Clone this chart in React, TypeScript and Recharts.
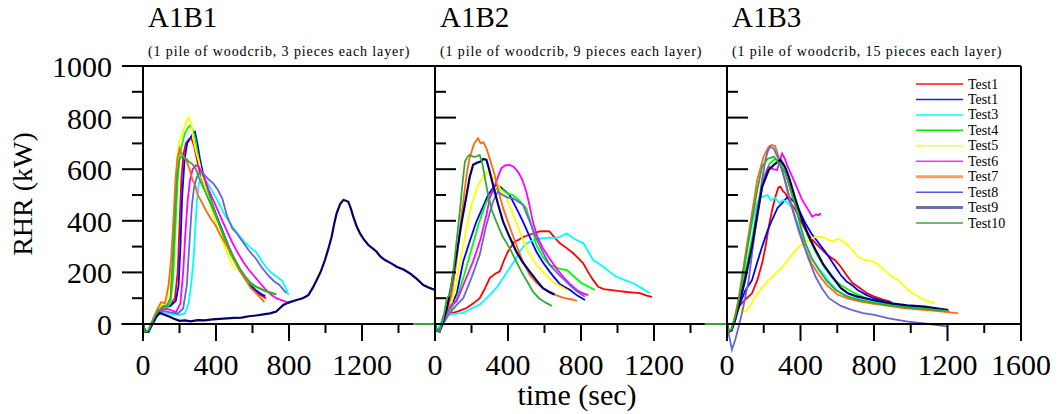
import React from "react";
import { LineChart, Line, XAxis, YAxis, ReferenceLine, Legend } from "recharts";

type Pt = [number, number];

const FONT = "'Liberation Serif', 'Times New Roman', Times, serif";

// ---- A1B1 (3 pieces each layer) : [time sec, RHR kW]
const a1b1Test1: Pt[] = [[-120,0],[0,0],[12,-30],[30,-25],[55,15],[80,55],[100,68],[125,70],[150,75],[175,100],[190,200],[200,380],[210,560],[222,660],[235,700],[250,715],[265,720],[280,690],[295,640],[310,590],[330,545],[355,500],[380,455],[405,410],[430,365],[455,320],[480,280],[510,240],[540,200],[570,165],[600,135],[630,118],[655,108],[675,100]];
const a1b1Test2: Pt[] = [[-120,0],[0,0],[12,-30],[30,-28],[55,10],[80,50],[105,62],[130,66],[150,70],[180,90],[195,150],[205,300],[215,500],[228,640],[242,700],[258,720],[272,735],[285,745],[298,700],[312,640],[330,580],[350,530],[375,475],[400,425],[425,380],[450,335],[475,290],[500,250],[530,210],[560,175],[590,150],[620,130],[650,115],[670,108]];
const a1b1Test3: Pt[] = [[-120,0],[0,0],[12,-30],[30,-30],[55,0],[80,35],[105,45],[130,42],[160,38],[200,35],[230,42],[250,80],[262,140],[276,243],[285,350],[295,475],[305,540],[318,570],[332,565],[350,550],[375,520],[400,490],[425,455],[450,420],[488,380],[520,350],[560,315],[590,295],[617,281],[650,245],[680,215],[710,195],[740,180],[765,165],[785,135],[797,112]];
const a1b1Test4: Pt[] = [[-120,0],[0,0],[12,-30],[30,-28],[55,10],[80,45],[105,60],[130,65],[150,80],[165,180],[178,380],[190,560],[202,660],[215,700],[230,740],[245,760],[258,770],[270,755],[285,720],[300,660],[315,600],[330,560],[350,520],[375,470],[400,420],[425,370],[450,320],[480,270],[510,230],[540,195],[570,170],[600,150],[630,140],[660,130],[690,125],[710,120],[730,115]];
const a1b1Test5: Pt[] = [[-120,0],[0,0],[12,-30],[30,-25],[55,15],[80,55],[105,75],[125,80],[145,150],[160,280],[172,450],[185,620],[198,710],[212,730],[225,760],[240,790],[250,800],[262,780],[275,720],[290,670],[310,620],[325,565],[341,526],[365,470],[390,410],[420,350],[451,294],[470,260],[488,230],[505,212]];
const a1b1Test6: Pt[] = [[-120,0],[0,0],[12,-30],[30,-28],[55,5],[80,40],[105,55],[130,58],[150,55],[180,45],[205,80],[220,200],[232,350],[245,480],[258,560],[272,600],[288,615],[305,610],[320,590],[340,560],[360,520],[385,480],[410,440],[435,400],[460,360],[490,315],[520,275],[550,240],[580,210],[610,185],[640,160],[670,135],[700,115],[730,100],[769,90],[805,80]];
const a1b1Test7: Pt[] = [[-120,0],[0,0],[12,-30],[30,-25],[55,20],[80,60],[100,85],[120,80],[140,150],[155,260],[168,420],[178,560],[188,640],[200,680],[212,660],[225,645],[240,630],[255,600],[270,560],[285,540],[300,500],[320,475],[345,440],[370,410],[395,385],[420,350],[445,320],[470,290],[500,250],[530,205],[560,175],[590,140],[620,120],[645,100],[665,85]];
const a1b1Test8: Pt[] = [[-120,0],[0,0],[12,-30],[30,-30],[55,5],[80,40],[105,50],[130,48],[150,45],[190,40],[220,60],[240,150],[255,320],[268,460],[280,530],[295,570],[310,585],[325,590],[340,575],[360,560],[385,545],[410,520],[435,485],[460,420],[488,372],[515,350],[545,320],[580,285],[617,255],[650,220],[690,185],[720,165],[746,152],[770,132],[785,120]];
const a1b1Test9: Pt[] = [[-120,0],[0,0],[12,-30],[30,-30],[50,0],[75,30],[92,43],[110,38],[140,30],[170,20],[200,12],[230,14],[260,10],[300,15],[340,14],[380,18],[420,20],[460,22],[500,24],[540,25],[580,30],[620,33],[660,37],[696,41],[730,48],[769,74],[800,84],[842,93],[875,100],[906,112],[930,140],[952,171],[975,205],[997,248],[1015,290],[1034,339],[1048,390],[1061,429],[1080,465],[1098,481],[1112,478],[1125,474],[1140,445],[1152,416],[1170,380],[1189,351],[1210,328],[1235,306],[1260,292],[1280,280],[1300,262],[1326,248],[1360,235],[1390,222],[1430,210],[1463,196],[1500,175],[1536,151],[1570,140],[1600,132]];
const a1b1Test10: Pt[] = [[-120,0],[0,0],[12,-30],[30,-25],[55,15],[80,50],[105,65],[130,70],[150,100],[163,240],[175,420],[188,580],[200,640],[215,650],[230,645],[250,630],[270,620],[290,600],[310,560],[330,530],[355,490],[380,450],[410,400],[440,350],[470,300],[500,255],[530,215],[560,185],[590,160],[620,145],[650,135],[680,125],[710,120],[730,115]];

// ---- A1B2 (9 pieces each layer)
const a1b2Test1: Pt[] = [[-120,0],[0,0],[10,-25],[25,-20],[45,30],[64,49],[85,45],[100,43],[130,50],[173,62],[210,80],[245,100],[275,140],[300,178],[330,195],[355,204],[380,250],[400,281],[418,300],[436,320],[455,325],[473,333],[495,340],[518,346],[545,352],[573,359],[600,360],[627,359],[650,340],[685,313],[720,295],[756,275],[785,255],[811,236],[840,200],[866,171],[894,144],[925,135],[959,132],[1000,128],[1052,124],[1090,122],[1123,120],[1160,110],[1189,105]];
const a1b2Test2: Pt[] = [[-120,0],[0,0],[10,-25],[25,-25],[45,5],[65,30],[90,70],[120,120],[155,243],[190,320],[227,397],[260,450],[291,500],[315,525],[336,539],[360,530],[385,515],[409,500],[445,450],[482,397],[518,340],[555,281],[590,240],[627,204],[660,175],[685,154],[740,132],[780,110],[822,93]];
const a1b2Test3: Pt[] = [[-120,0],[0,0],[10,-25],[30,0],[50,30],[82,36],[120,40],[155,43],[200,60],[245,75],[290,105],[336,139],[370,175],[409,217],[440,250],[464,281],[490,305],[518,320],[555,328],[591,333],[630,335],[664,333],[690,340],[722,351],[758,332],[790,320],[813,313],[840,280],[867,248],[895,235],[922,222],[960,200],[995,183],[1040,170],[1087,158],[1130,140],[1178,119]];
const a1b2Test4: Pt[] = [[-120,0],[0,0],[10,-25],[25,-25],[45,5],[65,30],[90,60],[120,100],[160,190],[200,290],[240,390],[280,470],[318,514],[340,525],[370,520],[400,505],[427,500],[460,480],[500,449],[530,380],[555,307],[590,260],[627,230],[680,215],[723,209],[760,185],[800,160],[840,145],[877,132]];
const a1b2Test5: Pt[] = [[-120,0],[0,0],[10,-25],[25,-25],[45,10],[65,40],[90,80],[118,160],[145,268],[172,370],[200,462],[222,510],[245,552],[268,575],[291,590],[312,570],[336,552],[360,520],[391,488],[425,430],[464,359],[510,280],[555,230],[600,195],[645,165],[690,145],[725,130]];
const a1b2Test6: Pt[] = [[-120,0],[0,0],[10,-25],[25,-25],[45,5],[65,40],[90,75],[118,88],[160,160],[209,243],[250,330],[282,423],[300,488],[318,520],[336,552],[350,580],[364,604],[385,615],[409,617],[430,610],[455,590],[478,560],[500,514],[518,460],[536,397],[560,340],[591,294],[627,255],[664,217],[700,185],[740,155],[780,130],[815,118],[840,112]];
const a1b2Test7: Pt[] = [[-120,0],[0,0],[10,-25],[25,-28],[45,10],[65,50],[90,110],[118,243],[145,420],[173,578],[188,640],[200,668],[215,700],[236,720],[250,700],[265,705],[282,681],[300,640],[327,578],[350,510],[373,449],[410,375],[445,307],[480,245],[518,191],[555,160],[591,139],[630,120],[670,110],[710,100],[750,95],[778,90]];
const a1b2Test8: Pt[] = [[-120,0],[0,0],[10,-25],[25,-25],[45,0],[65,25],[90,50],[120,75],[155,100],[200,180],[245,268],[280,380],[318,475],[345,514],[370,500],[400,490],[427,488],[455,475],[482,462],[518,400],[555,333],[590,280],[627,230],[680,190],[736,152],[780,125],[822,106]];
const a1b2Test9: Pt[] = [[-120,0],[0,0],[10,-25],[25,-30],[45,10],[65,60],[90,150],[118,268],[145,390],[173,500],[190,570],[209,617],[230,625],[250,630],[265,640],[282,636],[300,590],[318,539],[345,465],[373,397],[410,335],[445,281],[480,240],[518,204],[555,170],[591,139],[625,125],[655,114]];
const a1b2Test10: Pt[] = [[-120,0],[0,0],[10,-25],[25,-30],[45,20],[65,100],[82,114],[100,200],[118,320],[136,436],[150,540],[164,630],[180,650],[191,655],[210,648],[230,650],[245,655],[260,620],[275,560],[291,500],[312,440],[336,397],[370,340],[409,294],[440,250],[473,204],[505,165],[536,126],[570,100],[600,85],[627,75],[640,70]];

// ---- A1B3 (15 pieces each layer)
const a1b3Test1: Pt[] = [[-120,0],[0,0],[9,-30],[25,-20],[45,20],[64,67],[100,95],[136,119],[165,170],[191,235],[210,300],[227,377],[245,440],[264,494],[280,530],[291,532],[305,515],[318,506],[345,470],[373,442],[400,400],[427,364],[460,330],[500,300],[545,268],[591,245],[619,222],[650,190],[682,160],[711,145],[760,120],[802,106],[850,95],[893,86]];
const a1b3Test2: Pt[] = [[-120,0],[0,0],[9,-30],[25,-20],[45,15],[64,67],[100,130],[136,170],[165,240],[191,300],[220,360],[245,403],[275,450],[300,468],[320,485],[336,494],[355,480],[373,468],[400,430],[427,390],[460,350],[500,313],[545,270],[591,220],[619,190],[650,165],[682,150],[711,132],[760,112],[802,99],[850,90],[900,82]];
const a1b3Test3: Pt[] = [[-120,0],[0,0],[9,-30],[25,-15],[45,30],[64,80],[90,200],[118,320],[140,400],[160,460],[180,490],[200,495],[220,500],[240,480],[260,490],[285,470],[305,480],[330,470],[356,450],[380,400],[409,340],[440,290],[470,245],[500,215],[530,190],[560,160],[600,130],[650,108],[720,95],[800,85],[880,75],[960,68],[1040,62],[1120,58],[1200,55]];
const a1b3Test4: Pt[] = [[-120,0],[0,0],[9,-30],[25,-25],[45,20],[64,70],[100,200],[136,330],[170,470],[200,570],[230,620],[260,640],[285,630],[310,600],[340,545],[370,480],[409,400],[445,335],[482,280],[525,225],[573,180],[619,151],[680,125],[750,102],[820,86],[900,75],[980,68],[1060,62],[1140,57],[1200,55]];
const a1b3Test5: Pt[] = [[-120,0],[0,0],[9,-30],[27,-10],[45,20],[64,54],[82,60],[100,48],[125,70],[155,106],[190,140],[227,170],[270,200],[318,235],[355,270],[391,300],[420,315],[445,326],[470,335],[500,339],[530,335],[555,325],[573,319],[600,330],[619,326],[645,313],[680,290],[711,261],[740,250],[773,245],[802,241],[830,225],[857,209],[895,185],[930,171],[960,150],[985,132],[1020,115],[1058,99],[1095,88],[1131,80]];
const a1b3Test6: Pt[] = [[-120,0],[0,0],[9,-30],[25,-20],[45,25],[64,70],[100,170],[136,300],[165,440],[191,532],[210,580],[227,610],[250,600],[273,597],[290,640],[300,661],[315,640],[336,600],[355,571],[380,530],[409,481],[436,450],[464,416],[485,425],[500,422],[510,430]];
const a1b3Test7: Pt[] = [[-120,0],[0,0],[9,-30],[25,-20],[45,35],[64,100],[100,270],[136,430],[165,560],[200,650],[227,687],[245,694],[262,690],[275,661],[300,600],[330,520],[360,440],[390,360],[420,300],[460,235],[500,190],[545,150],[600,115],[660,98],[720,88],[800,78],[880,70],[960,62],[1040,57],[1120,52],[1200,46],[1240,43],[1258,42]];
const a1b3Test8: Pt[] = [[-120,0],[0,0],[10,-40],[27,-100],[45,-60],[64,-10],[90,70],[118,170],[145,320],[173,468],[191,560],[209,636],[222,670],[236,687],[255,680],[282,636],[310,570],[336,494],[370,410],[409,326],[445,250],[482,183],[520,135],[555,100],[619,70],[682,54],[740,42],[802,35],[880,22],[985,9],[1100,0],[1204,-10]];
const a1b3Test9: Pt[] = [[-120,0],[0,0],[9,-30],[25,-25],[45,20],[64,67],[100,180],[136,300],[165,420],[191,532],[227,597],[260,620],[291,636],[315,610],[336,571],[370,490],[409,403],[445,340],[482,287],[525,230],[573,183],[619,140],[660,118],[710,106],[800,92],[893,80],[980,72],[1076,67],[1150,60],[1204,54]];
const a1b3Test10: Pt[] = [[-120,0],[0,0],[9,-30],[25,-20],[45,30],[64,93],[100,250],[136,403],[165,520],[191,610],[220,640],[255,649],[285,620],[318,584],[345,520],[373,455],[400,380],[427,313],[460,255],[500,209],[545,165],[591,132],[650,108],[718,93],[780,85],[850,75],[920,68],[1000,62],[1080,58],[1150,54],[1210,50]];

const panelTitles = ["A1B1", "A1B2", "A1B3"];
const panelSubtitles = [
  "(1 pile of woodcrib, 3 pieces each layer)",
  "(1 pile of woodcrib, 9 pieces each layer)",
  "(1 pile of woodcrib, 15 pieces each layer)",
];
const panelSeries = [
  [a1b1Test1, a1b1Test2, a1b1Test3, a1b1Test4, a1b1Test5, a1b1Test6, a1b1Test7, a1b1Test8, a1b1Test9, a1b1Test10],
  [a1b2Test1, a1b2Test2, a1b2Test3, a1b2Test4, a1b2Test5, a1b2Test6, a1b2Test7, a1b2Test8, a1b2Test9, a1b2Test10],
  [a1b3Test1, a1b3Test2, a1b3Test3, a1b3Test4, a1b3Test5, a1b3Test6, a1b3Test7, a1b3Test8, a1b3Test9, a1b3Test10],
];

const legendLabels = ["Test1", "Test1", "Test3", "Test4", "Test5", "Test6", "Test7", "Test8", "Test9", "Test10"];
const lineColors = ["#ff0000", "#0000ff", "#00ffff", "#00ff00", "#ffff00", "#ff00ff", "#ff6a10", "#6666d6", "#000066", "#33aa33"];
const legendColors = ["#ff4a4a", "#2020e0", "#40ffff", "#00ee00", "#ffff20", "#ff30ff", "#ff9a66", "#5555dd", "#7070a8", "#40aa40"];

const xTicks = [0, 200, 400, 600, 800, 1000, 1200, 1400, 1600];
const yTicks = [0, 100, 200, 300, 400, 500, 600, 700, 800, 900, 1000];

// layout
const W = 1059;
const H = 414;
const plotLefts = [143, 435, 727];
const plotRights = [435, 727, 1021];
const plotTop = 66;
const plotBottom = 324;
const yAxisW = 60;
const xAxisH = 30;

const toRows = (pts: Pt[]) => pts.map(([t, v]) => ({ t, v }));

const XTick = (props: any) => {
  const { x, y, payload, showLast } = props;
  const major = payload.value % 400 === 0;
  const showLabel = major && (payload.value < 1600 || showLast);
  return (
    <g>
      <line x1={x} y1={y} x2={x} y2={y + (major ? 17 : 9)} stroke="#000" strokeWidth={2} />
      {showLabel && (
        <text x={x} y={y + 51} textAnchor="middle" fontSize={30} fontFamily={FONT} fill="#000">
          {payload.value}
        </text>
      )}
    </g>
  );
};

const YTickOut = (props: any) => {
  const { x, y, payload } = props;
  const major = payload.value % 200 === 0;
  return (
    <g>
      <line x1={x - (major ? 21 : 11)} y1={y} x2={x} y2={y} stroke="#000" strokeWidth={2} />
      {major && (
        <text x={x - 31} y={y + 11} textAnchor="end" fontSize={30} fontFamily={FONT} fill="#000">
          {payload.value}
        </text>
      )}
    </g>
  );
};

const YTickIn = (props: any) => {
  const { x, y, payload } = props;
  if (payload.value === 0 || payload.value === 1000) return <g />;
  const major = payload.value % 200 === 0;
  return <line x1={x} y1={y} x2={x + (major ? 21 : 11)} y2={y} stroke="#000" strokeWidth={2} />;
};

const LegendBox = () => (
  <svg width={120} height={165}>
    {legendLabels.map((name, i) => {
      const cy = 8 + i * 15.45;
      return (
        <g key={i}>
          <line x1={6} y1={cy} x2={53} y2={cy} stroke={legendColors[i]} strokeWidth={i === 6 || i === 8 ? 3 : i === 0 || i === 2 ? 2 : 1.5} />
          <text x={58} y={cy + 4.5} fontSize={14} fontFamily={FONT} fill="#000">
            {name}
          </text>
        </g>
      );
    })}
  </svg>
);

const Panel = ({ index }: { index: number }) => {
  const left = plotLefts[index];
  const right = plotRights[index];
  const first = index === 0;
  const last = index === 2;
  return (
    <div style={{ position: "absolute", left: 0, top: 0 }}>
      <LineChart
        width={W}
        height={H}
        margin={{ top: plotTop, bottom: H - plotBottom - xAxisH, left: left - yAxisW, right: W - right }}
      >
        <XAxis
          type="number"
          dataKey="t"
          domain={[0, 1600]}
          allowDataOverflow
          ticks={xTicks}
          interval={0}
          height={xAxisH}
          tickSize={0}
          tickMargin={0}
          tickLine={false}
          axisLine={{ stroke: "#000", strokeWidth: 2 }}
          tick={(p: any) => <XTick {...p} showLast={last} />}
          label={
            index === 1
              ? () => (
                  <text x={(left + right) / 2 - 4} y={405} textAnchor="middle" fontSize={30} fontFamily={FONT} fill="#000">
                    time (sec)
                  </text>
                )
              : undefined
          }
        />
        <YAxis
          type="number"
          domain={[0, 1000]}
          allowDataOverflow
          ticks={yTicks}
          interval={0}
          width={yAxisW}
          tickSize={0}
          tickMargin={0}
          tickLine={false}
          axisLine={{ stroke: "#000", strokeWidth: 2 }}
          tick={first ? (p: any) => <YTickOut {...p} /> : (p: any) => <YTickIn {...p} />}
          label={
            first
              ? () => (
                  <text x={32} y={194} transform="rotate(-90, 32, 194)" textAnchor="middle" fontSize={28} fontFamily={FONT} fill="#000">
                    RHR (kW)
                  </text>
                )
              : undefined
          }
        />
        <ReferenceLine
          y={1000}
          stroke="#000"
          strokeWidth={2}
          label={() => (
            <g>
              <text x={left + 5} y={27} fontSize={29} fontFamily={FONT} fill="#000">
                {panelTitles[index]}
              </text>
              <text x={left + 5} y={56} fontSize={14} letterSpacing={0.9} fontFamily={FONT} fill="#000">
                {panelSubtitles[index]}
              </text>
            </g>
          )}
        />
        <ReferenceLine x={1600} stroke="#000" strokeWidth={2} />
        {panelSeries[index].map((s, i) => (
          <Line
            key={i}
            data={toRows(s)}
            dataKey="v"
            name={legendLabels[i]}
            type="linear"
            stroke={lineColors[i]}
            strokeWidth={i === 8 ? 2.2 : 1.8}
            dot={false}
            activeDot={false}
            isAnimationActive={false}
          />
        ))}
        {last && (
          <Legend
            layout="vertical"
            align="center"
            verticalAlign="middle"
            content={() => <LegendBox />}
            wrapperStyle={{ left: 910, top: 76, width: 120, height: 165 }}
          />
        )}
      </LineChart>
    </div>
  );
};

export default function App() {
  return (
    <div style={{ position: "absolute", left: 0, top: 0, width: W, height: H, background: "#fff", fontFamily: FONT }}>
      <style>{`.recharts-line, .recharts-line * { clip-path: none !important; }`}</style>
      <Panel index={0} />
      <Panel index={1} />
      <Panel index={2} />
    </div>
  );
}
